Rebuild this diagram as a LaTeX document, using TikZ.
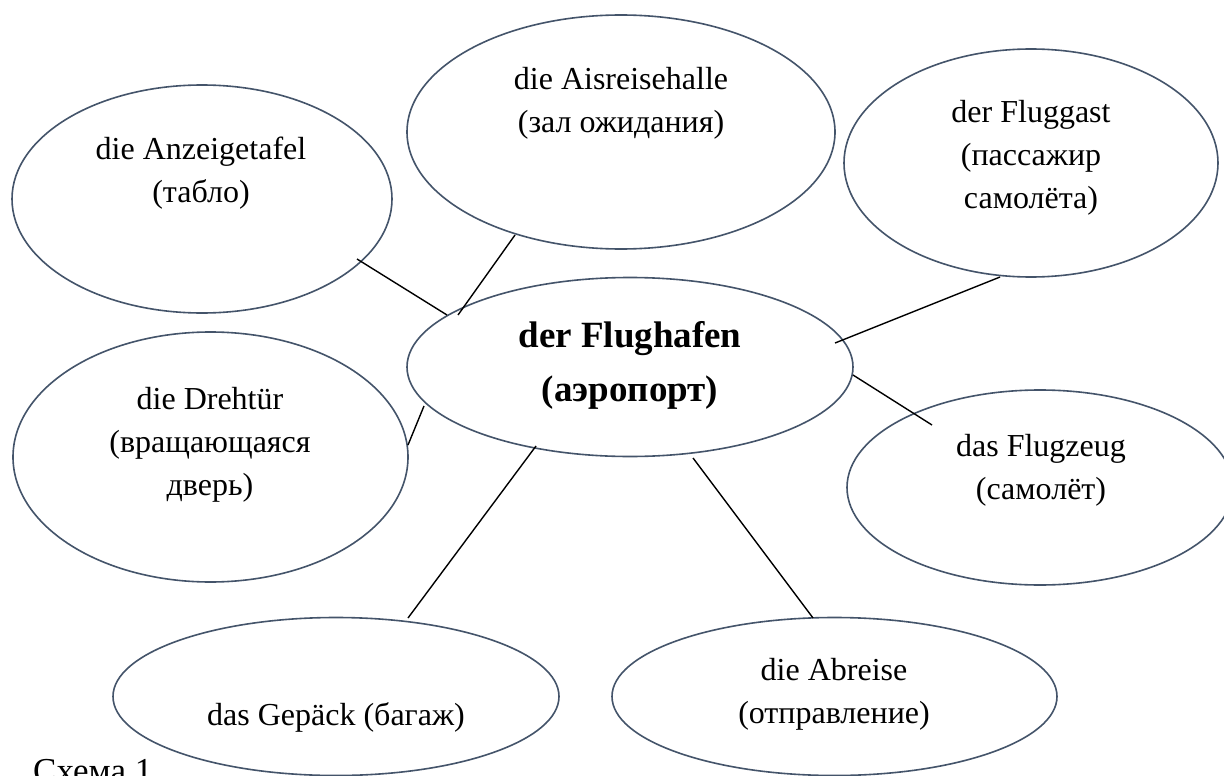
\documentclass[tikz,border=0pt]{standalone}
\usepackage{fontspec}
\setmainfont{Liberation Serif}
\usetikzlibrary{shapes.geometric}
\definecolor{edgeblue}{RGB}{68,84,106}
\begin{document}
\begin{tikzpicture}[x=1pt,y=-1pt,
  bub/.style={draw=edgeblue, line width=1.6pt, ellipse, inner sep=0pt, outer sep=0pt},
  txt/.style={align=center, inner sep=0pt, font=\fontsize{32}{43}\selectfont},
  hubtxt/.style={align=center, inner sep=0pt, font=\fontsize{37}{54}\selectfont\bfseries},
  conn/.style={draw=black, line width=1.4pt}]
\fill[white] (0,0) rectangle (1224,776);
\useasboundingbox (0,0) rectangle (1224,776);

% ellipses
\node[bub, minimum width=380pt, minimum height=228pt] (anz) at (202,199) {};
\node[bub, minimum width=428pt, minimum height=234pt] (hall) at (621,132) {};
\node[bub, minimum width=374pt, minimum height=228pt] (gast) at (1031,163) {};
\node[bub, minimum width=446pt, minimum height=179pt] (hub) at (630,367) {};
\node[bub, minimum width=395pt, minimum height=250pt] (dreh) at (210.5,457) {};
\node[bub, minimum width=386pt, minimum height=195pt] (zeug) at (1040,487.5) {};
\node[bub, minimum width=446pt, minimum height=158pt] (gep) at (336,696.5) {};
\node[bub, minimum width=445pt, minimum height=158pt] (abr) at (834.5,696.5) {};

% texts
\node[txt] (anzT) at (201,173.5) {die Anzeigetafel\\(табло)};
\node[txt] (hallT) at (621,103.5) {die Aisreisehalle\\(зал ожидания)};
\node[txt] (gastT) at (1031,158) {der Fluggast\\(пассажир\\самолёта)};
\node[hubtxt] (hubT) at (630,365) {der Flughafen\\(аэропорт)};
\node[txt] (drehT) at (210,445) {die Drehtür\\(вращающаяся\\дверь)};
\node[txt] (zeugT) at (1041,470.5) {das Flugzeug\\(самолёт)};
\node[txt] (gepT) at (336,717) {das Gepäck (багаж)};
\node[txt] (abrT) at (834,694.5) {die Abreise\\(отправление)};
\node[anchor=base west, inner sep=0pt, font=\fontsize{35}{42}\selectfont] (cap) at (33,782) {Схема 1};

% connector end points
\coordinate (anzE) at (357,259);  \coordinate (hubA) at (447,315);
\coordinate (hallE) at (515,235); \coordinate (hubB) at (458,315);
\coordinate (gastE) at (1000,277); \coordinate (hubC) at (835,343);
\coordinate (zeugE) at (932,425); \coordinate (hubD) at (853,375);
\coordinate (drehE) at (408,445); \coordinate (hubE) at (424,406);
\coordinate (gepE) at (408,618);  \coordinate (hubF) at (536,446);
\coordinate (abrE) at (813,618);  \coordinate (hubG) at (693,458);

\draw[conn] (anzE) -- (hubA);
\draw[conn] (hallE) -- (hubB);
\draw[conn] (gastE) -- (hubC);
\draw[conn] (hubD) -- (zeugE);
\draw[conn] (hubE) -- (drehE);
\draw[conn] (hubF) -- (gepE);
\draw[conn] (hubG) -- (abrE);
\end{tikzpicture}
\end{document}
